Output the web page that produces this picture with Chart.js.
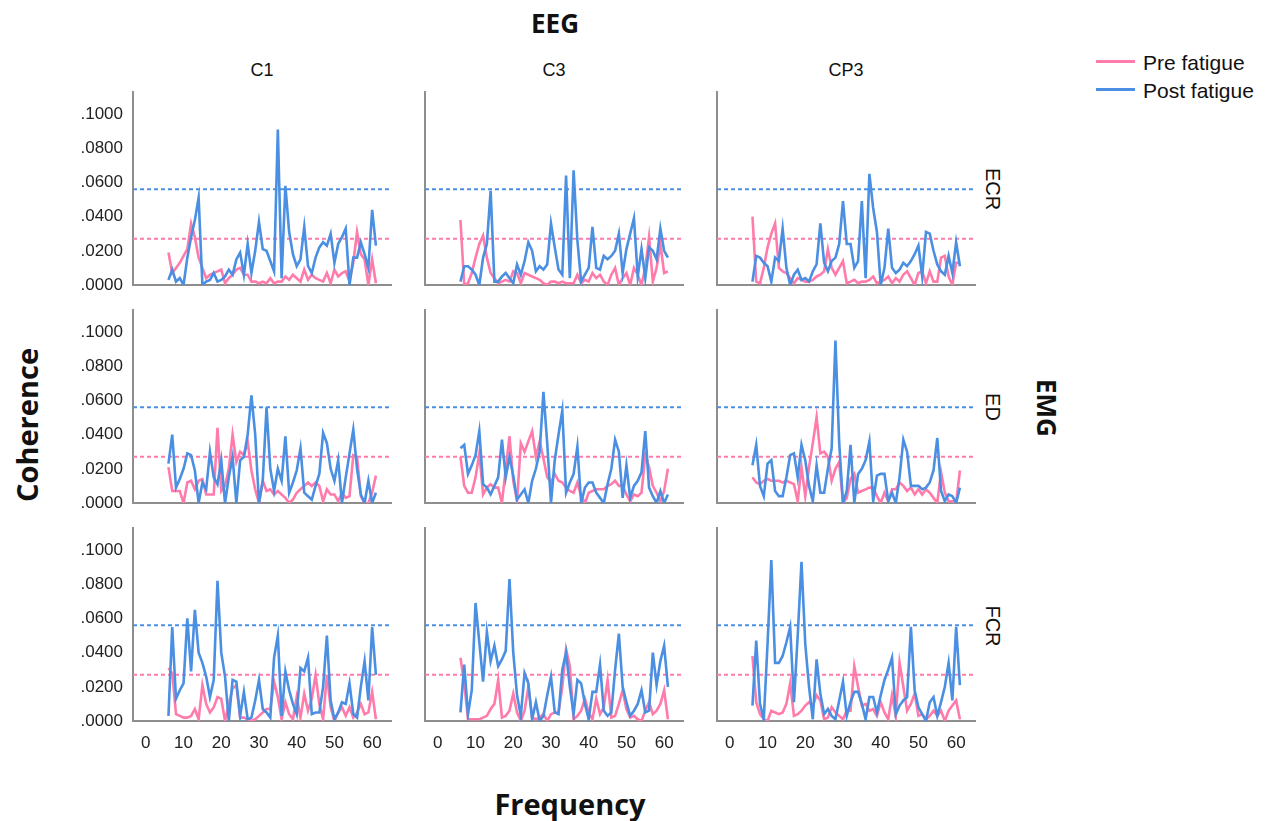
<!DOCTYPE html>
<html>
<head>
<meta charset="utf-8">
<script src="https://cdn.jsdelivr.net/npm/chart.js@4/dist/chart.umd.min.js"></script>
<style>
  html, body { margin: 0; padding: 0; background: #fff; }
  #wrap { position: relative; width: 1275px; height: 821px; overflow: hidden; background: #fff; }
  canvas.panel { position: absolute; }
  .txt { position: absolute; white-space: nowrap; line-height: 1; color: #111; }
  .sans { font-family: "Liberation Sans", Arial, sans-serif; }
  .bold { font-family: "Open Sans", "Liberation Sans", sans-serif; font-weight: 700; }
  .center { transform: translate(-50%, -50%); }
  .rotL { transform: translate(-50%, -50%) rotate(-90deg); }
  .rotR { transform: translate(-50%, -50%) rotate(90deg); }
  .swatch { position: absolute; height: 3px; width: 39px; }
</style>
</head>
<body>
<div id="wrap">
  <div class="txt bold center" style="left:555px; top:23px; font-size:26px;">EEG</div>
  <div class="txt sans center" style="left:262px; top:70px; font-size:18px;">C1</div>
  <div class="txt sans center" style="left:554px; top:70px; font-size:18px;">C3</div>
  <div class="txt sans center" style="left:846px; top:70px; font-size:18px;">CP3</div>

  <div class="txt sans rotR" style="left:993px; top:189px; font-size:20px;">ECR</div>
  <div class="txt sans rotR" style="left:993px; top:407px; font-size:20px;">ED</div>
  <div class="txt sans rotR" style="left:993px; top:626px; font-size:20px;">FCR</div>
  <div class="txt bold rotR" style="left:1047px; top:408px; font-size:26px;">EMG</div>

  <div class="txt bold rotL" style="left:26px; top:425px; font-size:29px;">Coherence</div>
  <div class="txt bold center" style="left:570px; top:803px; font-size:29px;">Frequency</div>

  <div class="swatch" style="left:1096px; top:60px; background:#ff7bab;"></div>
  <div class="txt sans" style="left:1143px; top:52px; font-size:21px;">Pre fatigue</div>
  <div class="swatch" style="left:1096px; top:88px; background:#4a8fe2;"></div>
  <div class="txt sans" style="left:1143px; top:80px; font-size:21px;">Post fatigue</div>
</div>
<script>
// Frequency bins (Hz)
const FREQ = [6,7,8,9,10,11,12,13,14,15,16,17,18,19,20,21,22,23,24,25,26,27,28,29,30,
  31,32,33,34,35,36,37,38,39,40,41,42,43,44,45,46,47,48,49,50,51,52,53,54,55,56,57,58,59,60,61];

// Significance levels of coherence
const REF_PRE = 0.027;
const REF_POST = 0.056;

// EMG ECR
const PRE_ECR_C1 = [.019,.007,.010,.013,.017,.021,.036,.028,.016,.010, .004,.006,.007,.008,.009,.001,.004,.006,.009,.010,
  .006,.006,.002,.002,.001,.002,.001,.004,.001,.002, .002,.005,.003,.006,.004,.002,.009,.003,.006,.004,
  .003,.002,.007,.001,.009,.005,.007,.008,.002,.013, .031,.018,.015,.000,.015,.001];
const POST_ECR_C1 = [.003,.009,.002,.004,.000,.016,.028,.038,.051,.000, .002,.003,.007,.002,.003,.005,.009,.006,.015,.019,
  .006,.024,.007,.020,.037,.021,.020,.014,.008,.091, .004,.058,.031,.018,.011,.015,.034,.011,.007,.016,
  .022,.025,.023,.030,.013,.024,.028,.033,.000,.016, .016,.025,.018,.010,.044,.023];
const PRE_ECR_C3 = [.038,.000,.001,.007,.016,.024,.029,.016,.007,.004, .001,.002,.003,.002,.008,.007,.001,.007,.006,.005,
  .004,.003,.001,.000,.002,.002,.001,.002,.001,.001, .001,.006,.001,.003,.002,.007,.004,.006,.002,.000,
  .006,.010,.000,.004,.007,.000,.010,.006,.000,.010, .028,.002,.010,.024,.007,.008];
const POST_ECR_C3 = [.002,.011,.011,.009,.006,.000,.016,.024,.055,.002, .002,.005,.007,.004,.001,.012,.006,.014,.025,.020,
  .008,.011,.009,.012,.036,.022,.009,.006,.064,.004, .067,.026,.002,.006,.010,.034,.010,.009,.017,.015,
  .017,.020,.030,.007,.021,.030,.039,.005,.021,.004, .022,.020,.015,.033,.020,.016];
const PRE_ECR_CP3 = [.040,.002,.001,.010,.022,.030,.036,.010,.008,.007, .004,.001,.004,.003,.002,.002,.003,.005,.006,.008,
  .021,.010,.006,.010,.014,.001,.002,.003,.001,.002, .002,.003,.005,.001,.002,.003,.005,.001,.004,.002,
  .006,.008,.004,.000,.007,.008,.001,.008,.002,.002, .016,.017,.005,.000,.013,.013];
const POST_ECR_CP3 = [.002,.017,.016,.013,.011,.002,.016,.014,.033,.010, .000,.006,.009,.003,.004,.002,.008,.012,.036,.013,
  .008,.014,.016,.024,.049,.024,.024,.010,.014,.049, .004,.065,.045,.031,.000,.010,.033,.010,.007,.009,
  .013,.011,.014,.018,.023,.005,.031,.030,.020,.012, .008,.006,.017,.007,.025,.011];

// EMG ED
const PRE_ED_C1 = [.021,.007,.007,.007,.000,.012,.013,.008,.013,.014, .005,.005,.005,.044,.007,.010,.020,.040,.024,.030,
  .028,.036,.019,.008,.000,.013,.007,.008,.005,.007, .005,.003,.000,.002,.006,.008,.010,.012,.010,.012,
  .010,.001,.008,.005,.005,.001,.006,.003,.004,.028, .027,.004,.000,.000,.006,.016];
const POST_ED_C1 = [.023,.040,.009,.014,.020,.029,.028,.019,.000,.012, .008,.030,.015,.011,.025,.000,.015,.027,.000,.025,
  .027,.040,.063,.040,.000,.013,.056,.020,.007,.020, .013,.039,.006,.012,.019,.032,.006,.004,.002,.010,
  .017,.041,.035,.020,.013,.025,.000,.015,.029,.043, .020,.005,.000,.013,.000,.006];
const PRE_ED_C3 = [.027,.010,.006,.006,.015,.029,.005,.009,.011,.009, .009,.000,.020,.039,.013,.001,.035,.030,.036,.042,
  .027,.036,.026,.015,.012,.017,.013,.012,.009,.007, .006,.012,.004,.000,.006,.007,.008,.008,.008,.010,
  .011,.013,.010,.010,.005,.001,.005,.004,.006,.028, .021,.010,.006,.001,.007,.020];
const POST_ED_C3 = [.032,.034,.017,.022,.028,.042,.011,.009,.005,.010, .015,.037,.015,.027,.016,.002,.005,.008,.000,.013,
  .020,.030,.065,.035,.000,.025,.040,.054,.006,.012, .017,.033,.000,.009,.012,.012,.006,.003,.000,.011,
  .020,.037,.030,.003,.022,.003,.010,.013,.018,.042, .009,.004,.000,.007,.000,.005];
const PRE_ED_CP3 = [.015,.012,.011,.013,.014,.013,.013,.013,.012,.013, .012,.011,.001,.021,.004,.021,.035,.050,.029,.030,
  .027,.013,.020,.024,.000,.003,.014,.017,.006,.007, .008,.009,.009,.004,.000,.006,.001,.008,.008,.012,
  .010,.007,.009,.005,.008,.005,.008,.006,.003,.000, .018,.006,.001,.001,.000,.019];
const POST_ED_CP3 = [.022,.034,.010,.004,.023,.025,.007,.004,.004,.015, .028,.029,.015,.034,.025,.010,.001,.022,.006,.006,
  .020,.032,.095,.035,.000,.007,.034,.000,.017,.020, .025,.036,.001,.016,.017,.017,.001,.006,.000,.015,
  .037,.030,.010,.010,.010,.008,.009,.012,.019,.038, .007,.001,.005,.004,.000,.009];

// EMG FCR
const PRE_FCR_C1 = [.031,.028,.004,.003,.002,.002,.003,.007,.001,.021, .010,.005,.008,.014,.013,.000,.010,.019,.021,.002,
  .002,.001,.000,.001,.003,.005,.007,.007,.023,.014, .001,.011,.004,.001,.014,.002,.016,.006,.013,.027,
  .010,.001,.027,.008,.000,.005,.008,.003,.008,.002, .005,.010,.004,.005,.017,.001];
const POST_FCR_C1 = [.003,.055,.013,.018,.022,.060,.029,.065,.040,.034, .026,.014,.024,.082,.040,.026,.000,.024,.023,.003,
  .017,.001,.002,.012,.024,.007,.005,.002,.037,.050, .003,.029,.018,.010,.004,.031,.029,.037,.004,.005,
  .005,.020,.050,.012,.001,.005,.011,.010,.022,.004, .002,.020,.035,.012,.055,.027];
const PRE_FCR_C3 = [.037,.022,.001,.001,.001,.001,.002,.003,.007,.010, .024,.002,.003,.006,.016,.005,.000,.006,.020,.002,
  .001,.002,.004,.000,.004,.005,.005,.020,.042,.032, .001,.003,.006,.013,.005,.001,.013,.004,.008,.024,
  .002,.003,.010,.018,.007,.002,.003,.001,.000,.006, .011,.004,.006,.010,.018,.001];
const POST_FCR_C3 = [.005,.033,.004,.018,.069,.046,.023,.052,.035,.044, .032,.036,.041,.083,.040,.015,.003,.028,.022,.001,
  .011,.000,.003,.015,.026,.005,.004,.030,.040,.020, .004,.024,.022,.010,.001,.017,.017,.033,.006,.003,
  .005,.030,.051,.020,.011,.003,.006,.010,.018,.005, .006,.040,.021,.035,.044,.020];
const PRE_FCR_CP3 = [.038,.011,.004,.001,.000,.006,.005,.004,.005,.010, .022,.003,.004,.006,.009,.011,.009,.015,.012,.001,
  .002,.008,.005,.003,.001,.006,.006,.032,.020,.009, .010,.006,.007,.003,.011,.005,.001,.015,.003,.034,
  .020,.006,.010,.016,.003,.004,.001,.003,.006,.003, .006,.000,.006,.009,.012,.001];
const POST_FCR_CP3 = [.009,.047,.010,.001,.045,.094,.034,.034,.038,.046, .055,.011,.050,.093,.045,.020,.001,.036,.016,.004,
  .007,.003,.001,.012,.023,.003,.011,.017,.017,.010, .001,.014,.014,.005,.015,.024,.030,.037,.004,.009,
  .012,.014,.055,.018,.008,.004,.000,.011,.014,.003, .011,.020,.034,.012,.055,.021];

const EEG_SITES = ['C1', 'C3', 'CP3'];
const EMG_MUSCLES = ['ECR', 'ED', 'FCR'];
const PANELS = [
  [[PRE_ECR_C1, POST_ECR_C1], [PRE_ECR_C3, POST_ECR_C3], [PRE_ECR_CP3, POST_ECR_CP3]],
  [[PRE_ED_C1, POST_ED_C1], [PRE_ED_C3, POST_ED_C3], [PRE_ED_CP3, POST_ED_CP3]],
  [[PRE_FCR_C1, POST_FCR_C1], [PRE_FCR_C3, POST_FCR_C3], [PRE_FCR_CP3, POST_FCR_CP3]]
];

const PINK = '#ff7bab';
const BLUE = '#4a8fe2';
const AXIS = '#8e8e8e';
const X_MIN = -3.4, X_MAX = 65;
const Y_MIN = 0, Y_MAX = 0.1128;

// panel grid geometry (plot-area corners)
const PLOT_W = 258, PLOT_H = 193;
const COL_LEFT = [133, 425, 717];
const ROW_TOP = [92, 310, 528];
const Y_AXIS_W = 100, X_AXIS_H = 50, PAD_TOP = 20, PAD_RIGHT = 10;

const tickFont = { family: '"Liberation Sans", Arial, sans-serif', size: 17 };

function series(vals) { return FREQ.map((f, i) => ({ x: f, y: vals[i] })); }
function refLine(v) { return [{ x: X_MIN, y: v }, { x: X_MAX, y: v }]; }

const wrap = document.getElementById('wrap');

PANELS.forEach((row, r) => {
  row.forEach(([pre, post], c) => {
    const cv = document.createElement('canvas');
    cv.className = 'panel';
    cv.width = Y_AXIS_W + PLOT_W + PAD_RIGHT;
    cv.height = PAD_TOP + PLOT_H + X_AXIS_H;
    cv.style.left = (COL_LEFT[c] - Y_AXIS_W) + 'px';
    cv.style.top = (ROW_TOP[r] - PAD_TOP) + 'px';
    cv.style.zIndex = String(10 + c);
    cv.setAttribute('aria-label', EMG_MUSCLES[r] + ' / ' + EEG_SITES[c]);
    wrap.appendChild(cv);

    const showY = c === 0;
    const showX = r === 2;

    new Chart(cv.getContext('2d'), {
      type: 'line',
      data: {
        datasets: [
          { label: 'Post fatigue', data: series(post), borderColor: BLUE, borderWidth: 2.6,
            pointRadius: 0, tension: 0, order: 0 },
          { label: 'Pre fatigue', data: series(pre), borderColor: PINK, borderWidth: 2.6,
            pointRadius: 0, tension: 0, order: 1 },
          { label: 'Post level', data: refLine(REF_POST), borderColor: BLUE, borderWidth: 2,
            borderDash: [4, 3], pointRadius: 0, order: 2 },
          { label: 'Pre level', data: refLine(REF_PRE), borderColor: PINK, borderWidth: 2,
            borderDash: [4, 3], pointRadius: 0, order: 2 }
        ]
      },
      options: {
        responsive: false,
        animation: false,
        devicePixelRatio: 1,
        events: [],
        layout: { padding: { top: PAD_TOP, right: PAD_RIGHT, left: 0, bottom: 0 } },
        plugins: { legend: { display: false }, tooltip: { enabled: false } },
        scales: {
          x: {
            type: 'linear', min: X_MIN, max: X_MAX,
            grid: { display: false, drawTicks: false },
            border: { display: true, color: AXIS, width: 2 },
            ticks: { display: showX, stepSize: 10, includeBounds: false, maxRotation: 0,
                     autoSkip: false, font: tickFont, color: '#222', padding: 12 },
            afterFit: s => { s.height = X_AXIS_H; }
          },
          y: {
            type: 'linear', min: Y_MIN, max: Y_MAX,
            grid: { display: false, drawTicks: false },
            border: { display: true, color: AXIS, width: 2 },
            ticks: { display: showY, stepSize: 0.02, includeBounds: false, autoSkip: false,
                     font: tickFont, color: '#222', padding: 10,
                     callback: v => v.toFixed(4).replace(/^0/, '') },
            afterFit: s => { s.width = Y_AXIS_W; }
          }
        }
      }
    });
  });
});
</script>
</body>
</html>
